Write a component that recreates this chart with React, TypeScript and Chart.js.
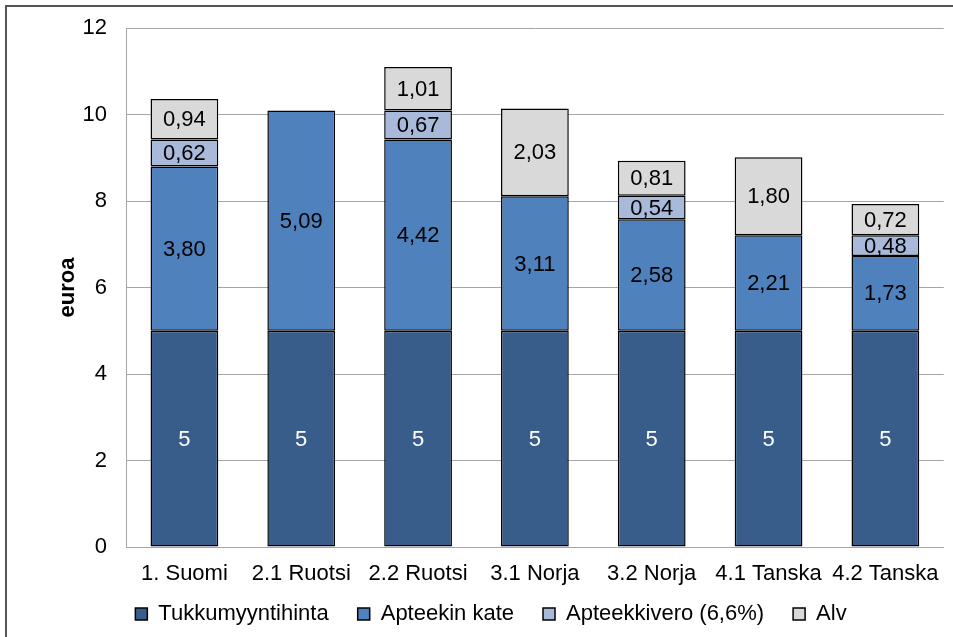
import React, { useEffect, useRef } from "react";
import { Chart, registerables } from "chart.js";

Chart.register(...registerables);

const categories = ["1. Suomi", "2.1 Ruotsi", "2.2 Ruotsi", "3.1 Norja", "3.2 Norja", "4.1 Tanska", "4.2 Tanska"];
const seriesNames = ["Tukkumyyntihinta", "Apteekin kate", "Apteekkivero (6,6%)", "Alv"];
const tukkumyyntihinta = [5, 5, 5, 5, 5, 5, 5];
const apteekinKate = [3.8, 5.09, 4.42, 3.11, 2.58, 2.21, 1.73];
const apteekkivero = [0.62, 0, 0.67, 0, 0.54, 0, 0.48];
const alv = [0.94, 0, 1.01, 2.03, 0.81, 1.8, 0.72];
const labelDecimals = [0, 2, 2, 2];
const yTicks = [0, 2, 4, 6, 8, 10, 12];

const colors = ["#385D8A", "#4F81BD", "#A9B9D9", "#D9D9D9"];
const labelColors = ["#FFFFFF", "#000000", "#000000", "#000000"];
const FONT = "'Liberation Sans', Arial, sans-serif";

const dataLabelPlugin = {
  id: "segmentLabels",
  afterDatasetsDraw(chart: any) {
    const ctx = chart.ctx;
    ctx.save();
    ctx.font = `22px ${FONT}`;
    ctx.textAlign = "center";
    ctx.textBaseline = "middle";
    chart.data.datasets.forEach((ds: any, di: number) => {
      const meta = chart.getDatasetMeta(di);
      meta.data.forEach((el: any, i: number) => {
        const v = ds.data[i];
        if (!v) return;
        const p = el.getProps(["x", "y", "base"], true);
        const txt = v.toFixed(labelDecimals[di]).replace(".", ",");
        ctx.fillStyle = labelColors[di];
        ctx.fillText(txt, p.x, (p.y + p.base) / 2 + 1);
      });
    });
    ctx.restore();
  },
};

// moves the legend row up into the space below the category labels
const legendShiftPlugin = {
  id: "legendShift",
  afterLayout(chart: any) {
    const lg = chart.legend;
    if (lg) {
      lg.top -= 11;
      lg.bottom -= 11;
    }
  },
};

export default function App() {
  const ref = useRef<HTMLCanvasElement | null>(null);
  useEffect(() => {
    if (!ref.current) return;
    const seriesData = [tukkumyyntihinta, apteekinKate, apteekkivero, alv];
    const chart = new Chart(ref.current, {
      type: "bar",
      data: {
        labels: categories,
        datasets: seriesNames.map((name, i) => ({
          label: name,
          data: seriesData[i],
          backgroundColor: colors[i],
          borderColor: "#000000",
          borderWidth: 1.5,
          borderSkipped: false,
          barPercentage: 0.58,
          categoryPercentage: 1,
        })),
      },
      options: {
        responsive: false,
        animation: false,
        devicePixelRatio: 1,
        layout: { padding: { left: 35, right: 6, top: 28, bottom: -9 } },
        font: { family: FONT },
        plugins: {
          tooltip: { enabled: false },
          legend: {
            position: "bottom",
            labels: {
              font: { size: 22, family: FONT },
              color: "#000",
              boxWidth: 12,
              boxHeight: 12,
              padding: 29,
            },
          },
        },
        scales: {
          x: {
            stacked: true,
            grid: { display: false, drawTicks: false },
            border: { display: true, color: "#a6a6a6", width: 1 },
            ticks: { font: { size: 22, family: FONT }, color: "#000", padding: 14, maxRotation: 0, autoSkip: false },
            afterFit: (s: any) => { s.height = 38; },
          },
          y: {
            stacked: true,
            min: 0,
            max: 12,
            afterBuildTicks: (s: any) => { s.ticks = yTicks.map((v) => ({ value: v })); },
            grid: { color: "#a6a6a6", drawTicks: false, lineWidth: 1 },
            border: { display: true, color: "#a6a6a6", width: 1 },
            ticks: { font: { size: 22, family: FONT }, color: "#000", padding: 19 },
            title: {
              display: true,
              text: "euroa",
              color: "#000",
              font: { size: 22, weight: "bold", family: FONT },
              padding: { top: 20, bottom: 0 },
            },
            afterFit: (s: any) => {
              s.width = 91;
              s.paddingTop = 0;
              s.paddingBottom = 0;
            },
          },
        },
      },
      plugins: [dataLabelPlugin, legendShiftPlugin],
    } as any);
    return () => chart.destroy();
  }, []);
  return (
    <div style={{ position: "fixed", left: 0, top: 0, width: 953, height: 637, background: "#fff", overflow: "hidden" }}>
      <canvas ref={ref} width={953} height={637} style={{ position: "absolute", left: 0, top: 0, width: 953, height: 637 }} />
      <div style={{ position: "absolute", left: 5, top: 5, width: 960, height: 640, borderLeft: "2px solid #555", borderTop: "2px solid #555", pointerEvents: "none" }} />
    </div>
  );
}
